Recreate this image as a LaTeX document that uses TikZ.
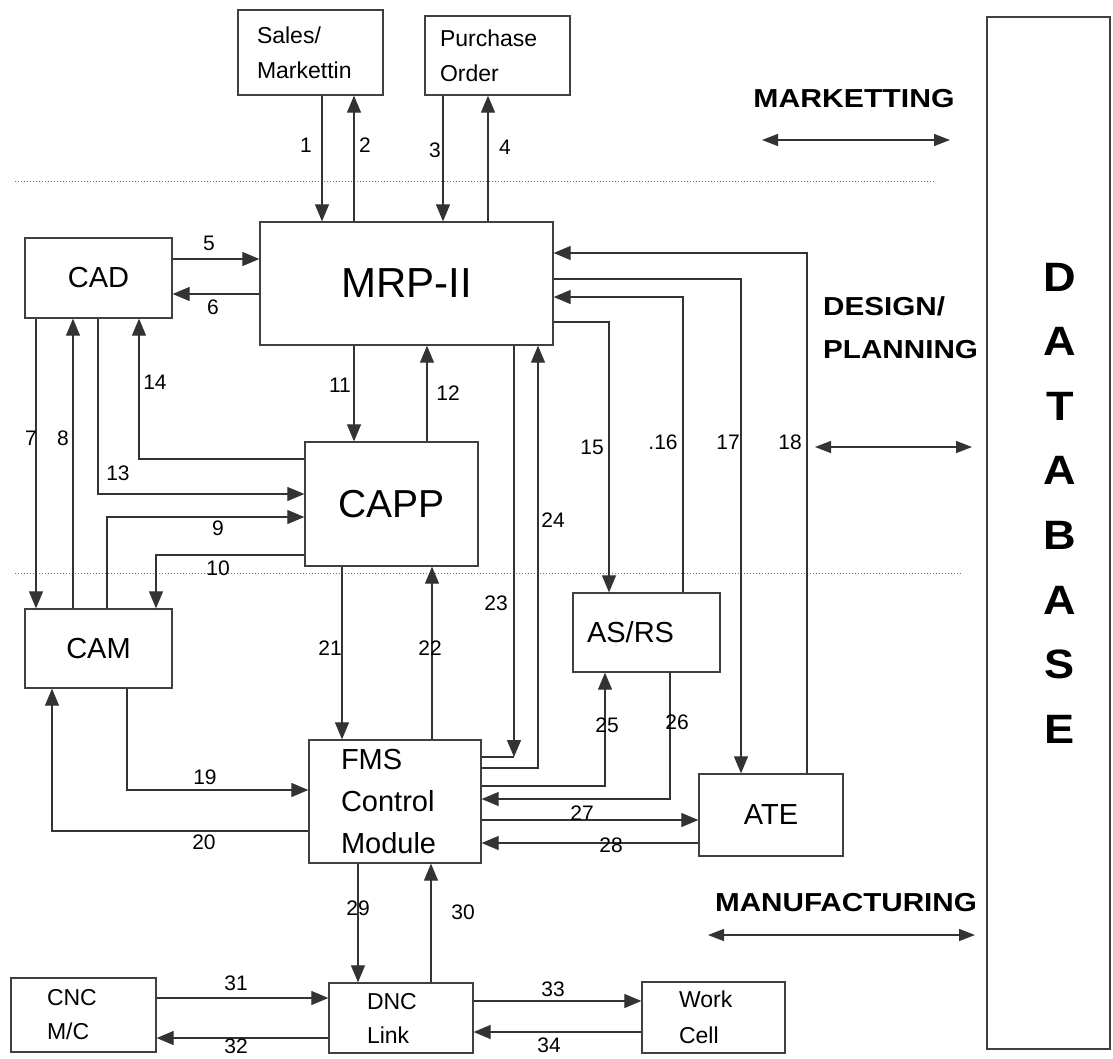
\documentclass[tikz,border=0pt]{standalone}
\usepackage{fontspec}
\setmainfont{Liberation Sans}
\usetikzlibrary{arrows.meta}
\begin{document}
\begin{tikzpicture}[x=1pt,y=-1pt,
  box/.style={draw=black!75, line width=1.3pt, inner sep=0pt},
  ln/.style={draw=black!80, line width=1.2pt},
  arr/.style={ln, -{Triangle[length=17pt,width=14pt]}},
  biarr/.style={ln, line width=1.4pt, {Triangle[length=16pt,width=12pt]}-{Triangle[length=16pt,width=12pt]}},
  num/.style={font=\fontsize{21}{24}\selectfont, inner sep=0pt},
  region/.style={font=\bfseries\fontsize{26}{43}\selectfont, inner sep=0pt},
  dots/.style={dotted, draw=black!55, line width=1pt}]
\useasboundingbox (0,0) rectangle (1113,1058);

% separators
\draw[dots] (15,181) -- (935,181);
\draw[dots] (15,573) -- (962,573);

% boxes
\node[box, inner xsep=19pt, text width=107pt, minimum height=85pt, align=left,
  font=\fontsize{23}{35}\selectfont] (sales) at (310.5,52.5) {Sales/\\Markettin};
\node[box, inner xsep=15pt, text width=115pt, minimum height=79pt, align=left,
  font=\fontsize{23}{35}\selectfont] (purch) at (497.5,55.5) {Purchase\\Order};
\node[box, minimum width=293pt, minimum height=123pt, font=\fontsize{42}{48}\selectfont] (mrp) at (406.5,283.5) {MRP-II};
\node[box, minimum width=147pt, minimum height=80pt, font=\fontsize{29}{34}\selectfont] (cad) at (98.5,278) {CAD};
\node[box, minimum width=173pt, minimum height=124pt, font=\fontsize{39}{44}\selectfont] (capp) at (391.5,504) {CAPP};
\node[box, minimum width=147pt, minimum height=79pt, font=\fontsize{29}{34}\selectfont] (cam) at (98.5,648.5) {CAM};
\node[box, inner xsep=14pt, text width=119pt, minimum height=79pt, align=left,
  font=\fontsize{29}{34}\selectfont] (asrs) at (646.5,632.5) {AS/RS};
\node[box, inner xsep=32pt, text width=108pt, minimum height=123pt, align=left,
  font=\fontsize{29}{42}\selectfont] (fms) at (395,801.5) {FMS\\Control\\Module};
\node[box, minimum width=144pt, minimum height=82pt, font=\fontsize{29}{34}\selectfont] (ate) at (771,815) {ATE};
\node[box, minimum width=123pt, minimum height=1032pt] (db) at (1048.5,533) {};
\node[font=\bfseries\fontsize{41}{64.6}\selectfont, align=center, inner sep=0pt] (dbtext) at (1060,503) {\scalebox{1.1}[1]{D}\\\scalebox{1.1}[1]{A}\\\scalebox{1.1}[1]{T}\\\scalebox{1.1}[1]{A}\\\scalebox{1.1}[1]{B}\\\scalebox{1.1}[1]{A}\\\scalebox{1.1}[1]{S}\\\scalebox{1.1}[1]{E}};
\node[box, inner xsep=36pt, text width=73pt, minimum height=74pt, align=left,
  font=\fontsize{23}{34}\selectfont] (cnc) at (83.5,1015) {CNC\\M/C};
\node[box, inner xsep=38pt, text width=68pt, minimum height=70pt, align=left,
  font=\fontsize{23}{34}\selectfont] (dnc) at (401,1018) {DNC\\Link};
\node[box, inner xsep=37pt, text width=69pt, minimum height=71pt, align=left,
  font=\fontsize{23}{36}\selectfont] (work) at (713.5,1017.5) {Work\\Cell};

% region labels and arrows
\node[region] (mkt) at (854,99) {\scalebox{1.16}[1]{MARKETTING}};
\coordinate (mktL) at (762,140); \coordinate (mktR) at (950,140);
\draw[biarr] (mktL) -- (mktR);
\node[region, align=left, anchor=west] (des) at (823,328) {\scalebox{1.14}[1]{DESIGN/}\\\scalebox{1.14}[1]{PLANNING}};
\coordinate (desL) at (815,447); \coordinate (desR) at (972,447);
\draw[biarr] (desL) -- (desR);
\node[region] (man) at (846,903) {\scalebox{1.14}[1]{MANUFACTURING}};
\coordinate (manL) at (708,935); \coordinate (manR) at (975,935);
\draw[biarr] (manL) -- (manR);

% connectors
\draw[arr] (sales.south -| 322,0) -- (mrp.north -| 322,0);
\draw[arr] (mrp.north -| 354,0) -- (sales.south -| 354,0);
\draw[arr] (purch.south -| 443,0) -- (mrp.north -| 443,0);
\draw[arr] (mrp.north -| 488,0) -- (purch.south -| 488,0);
\draw[arr] (cad.east |- 0,259) -- (mrp.west |- 0,259);
\draw[arr] (mrp.west |- 0,294) -- (cad.east |- 0,294);
\draw[arr] (cad.south -| 36,0) -- (cam.north -| 36,0);
\draw[arr] (cam.north -| 73,0) -- (cad.south -| 73,0);
\draw[arr] (cam.north -| 107,0) -- (107,517) -- (capp.west |- 0,517);
\draw[arr] (capp.west |- 0,555) -- (156,555) -- (cam.north -| 156,0);
\draw[arr] (mrp.south -| 354,0) -- (capp.north -| 354,0);
\draw[arr] (capp.north -| 427,0) -- (mrp.south -| 427,0);
\draw[arr] (cad.south -| 98,0) -- (98,494) -- (capp.west |- 0,494);
\draw[arr] (capp.west |- 0,459) -- (139,459) -- (cad.south -| 139,0);
\draw[arr] (mrp.east |- 0,322) -- (609,322) -- (asrs.north -| 609,0);
\draw[arr] (asrs.north -| 683,0) -- (683,297) -- (mrp.east |- 0,297);
\draw[arr] (mrp.east |- 0,279) -- (741,279) -- (ate.north -| 741,0);
\draw[arr] (ate.north -| 807,0) -- (807,253) -- (mrp.east |- 0,253);
\draw[arr] (cam.south -| 127,0) -- (127,790) -- (fms.west |- 0,790);
\draw[arr] (fms.west |- 0,831) -- (52,831) -- (cam.south -| 52,0);
\draw[arr] (capp.south -| 342,0) -- (fms.north -| 342,0);
\draw[arr] (fms.north -| 432,0) -- (capp.south -| 432,0);
\draw[arr] (mrp.south -| 514,0) -- (514,757);
\draw[ln] (fms.east |- 0,757) -- (514,757);
\draw[arr] (fms.east |- 0,768) -- (538,768) -- (mrp.south -| 538,0);
\draw[arr] (fms.east |- 0,786) -- (605,786) -- (asrs.south -| 605,0);
\draw[arr] (asrs.south -| 670,0) -- (670,799) -- (fms.east |- 0,799);
\draw[arr] (fms.east |- 0,820) -- (ate.west |- 0,820);
\draw[arr] (ate.west |- 0,843) -- (fms.east |- 0,843);
\draw[arr] (fms.south -| 358,0) -- (dnc.north -| 358,0);
\draw[arr] (dnc.north -| 431,0) -- (fms.south -| 431,0);
\draw[arr] (cnc.east |- 0,998) -- (dnc.west |- 0,998);
\draw[arr] (dnc.west |- 0,1038) -- (cnc.east |- 0,1038);
\draw[arr] (dnc.east |- 0,1001) -- (work.west |- 0,1001);
\draw[arr] (work.west |- 0,1032) -- (dnc.east |- 0,1032);

% connector labels
\node[num] (l1) at (306,145) {1};
\node[num] (l2) at (365,145) {2};
\node[num] (l3) at (435,150) {3};
\node[num] (l4) at (505,147) {4};
\node[num] (l5) at (209,243) {5};
\node[num] (l6) at (213,307) {6};
\node[num] (l7) at (31,438) {7};
\node[num] (l8) at (63,438) {8};
\node[num] (l9) at (218,528) {9};
\node[num] (l10) at (218,568) {10};
\node[num] (l11) at (340,385) {11};
\node[num] (l12) at (448,393) {12};
\node[num] (l13) at (118,473) {13};
\node[num] (l14) at (155,382) {14};
\node[num] (l15) at (592,447) {15};
\node[num] (l16) at (663,442) {.16};
\node[num] (l17) at (728,442) {17};
\node[num] (l18) at (790,442) {18};
\node[num] (l19) at (205,777) {19};
\node[num] (l20) at (204,842) {20};
\node[num] (l21) at (330,648) {21};
\node[num] (l22) at (430,648) {22};
\node[num] (l23) at (496,603) {23};
\node[num] (l24) at (553,520) {24};
\node[num] (l25) at (607,725) {25};
\node[num] (l26) at (677,722) {26};
\node[num] (l27) at (582,813) {27};
\node[num] (l28) at (611,845) {28};
\node[num] (l29) at (358,908) {29};
\node[num] (l30) at (463,912) {30};
\node[num] (l31) at (236,983) {31};
\node[num] (l32) at (236,1046) {32};
\node[num] (l33) at (553,989) {33};
\node[num] (l34) at (549,1045) {34};
\end{tikzpicture}
\end{document}
